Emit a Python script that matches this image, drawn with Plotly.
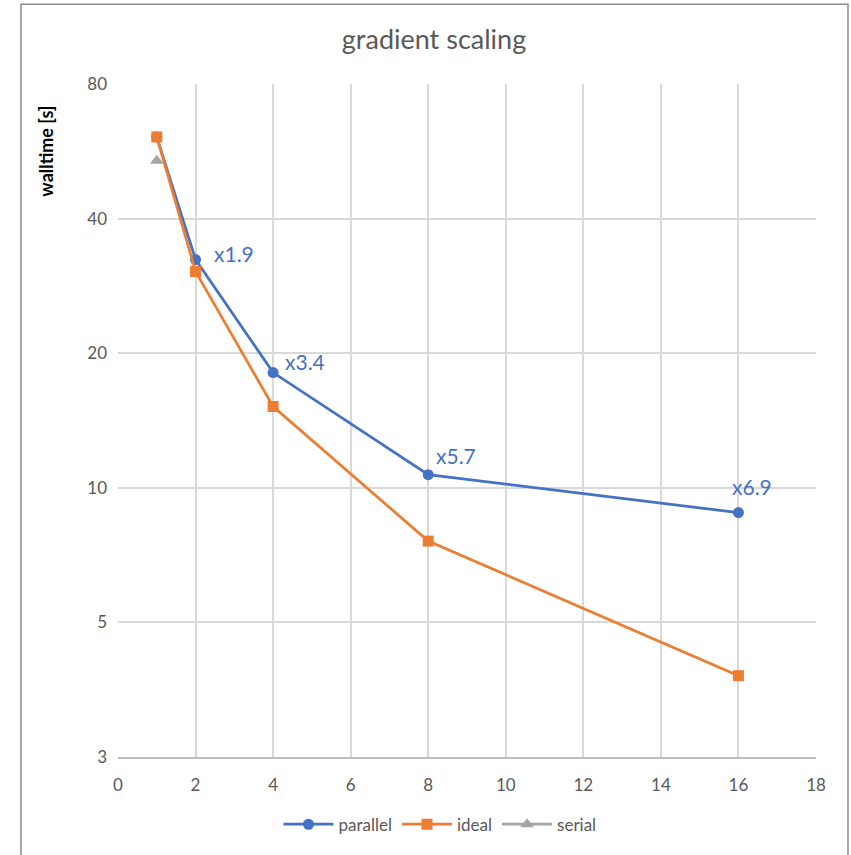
import math
import plotly.graph_objects as go

# ---- data ----
cores = [1, 2, 4, 8, 16]
parallel = [60.9, 32.4, 18.1, 10.7, 8.8]
ideal = [60.9, 30.45, 15.2, 7.6, 3.8]
serial_x = [1]
serial = [53.9]
speedup_labels = ["x1.9", "x3.4", "x5.7", "x6.9"]
speedup_x = [2, 4, 8, 16]
speedup_y = [32.4, 18.1, 10.7, 8.8]
ytick_vals = [2.5, 5, 10, 20, 40, 80]
ytick_text = ["3", "5", "10", "20", "40", "80"]
xtick_vals = list(range(0, 19, 2))

BLUE = "#4472C4"
ORANGE = "#ED7D31"
GRAY = "#A5A5A5"
FONT = "Lato, 'Open Sans', sans-serif"
TXT = "#595959"

W, H = 851, 855
L, R, T, B = 118, 35, 84, 95
pw, ph = W - L - R, H - T - B

fig = go.Figure()
fig.add_trace(go.Scatter(x=cores, y=parallel, name="parallel", mode="lines+markers",
                         line=dict(color=BLUE, width=2.75),
                         marker=dict(symbol="circle", size=11, color=BLUE)))
fig.add_trace(go.Scatter(x=cores, y=ideal, name="ideal", mode="lines+markers",
                         line=dict(color=ORANGE, width=2.75),
                         marker=dict(symbol="square", size=11, color=ORANGE)))
fig.add_trace(go.Scatter(x=serial_x, y=serial, name="serial", mode="lines+markers",
                         line=dict(color=GRAY, width=2.75),
                         marker=dict(symbol="triangle-up", size=12, color=GRAY)))

# speedup annotations (pixel offsets from points)
offsets = [(38, 6), (32, 11), (28, 19), (14, 26)]
for lab, xx, yy, (dx, dy) in zip(speedup_labels, speedup_x, speedup_y, offsets):
    fig.add_annotation(x=xx, y=math.log10(yy), text=lab, showarrow=False,
                       xshift=dx, yshift=dy, font=dict(family=FONT, size=21, color=BLUE))

def px(xp):
    return (xp - L) / pw

def py(yp):
    return (H - B - yp) / ph

# y axis title
fig.add_annotation(x=px(46), y=py(152), xref="paper", yref="paper", text="<b>walltime [s]</b>",
                   xanchor="center", yanchor="middle",
                   textangle=-90, showarrow=False, font=dict(family=FONT, size=18, color="#000000"))

# outer chart border
fig.add_shape(type="rect", xref="paper", yref="paper",
              x0=px(21), x1=px(848), y0=py(4), y1=py(870),
              line=dict(color="#8C8C8C", width=1.5), fillcolor="rgba(0,0,0,0)", layer="below")

fig.update_layout(
    width=W, height=H,
    margin=dict(l=L, r=R, t=T, b=B),
    paper_bgcolor="white", plot_bgcolor="white",
    title=dict(text="gradient scaling", x=px(434), xanchor="center", y=1 - 40 / H, yanchor="middle",
               xref="paper", font=dict(family=FONT, size=27, color=TXT)),
    showlegend=True,
    legend=dict(orientation="h", x=px(440), xanchor="center", y=py(828), yanchor="middle",
                font=dict(family=FONT, size=17, color=TXT), itemwidth=50),
    font=dict(family=FONT, color=TXT),
)
fig.update_xaxes(range=[0, 18], tickvals=xtick_vals, showgrid=True, gridcolor="#D9D9D9", gridwidth=1.5,
                 zeroline=False, showline=True, linecolor="#BFBFBF", linewidth=1.5,
                 ticks="", tickfont=dict(family=FONT, size=17, color=TXT), ticklabelstandoff=12)
fig.update_yaxes(type="log", range=[math.log10(2.5), math.log10(80)], tickvals=ytick_vals,
                 ticktext=ytick_text, showgrid=True, gridcolor="#D9D9D9", gridwidth=1.5,
                 zeroline=False, showline=False, ticks="",
                 tickfont=dict(family=FONT, size=17, color=TXT), ticklabelstandoff=10)

fig.write_html("out.html")
